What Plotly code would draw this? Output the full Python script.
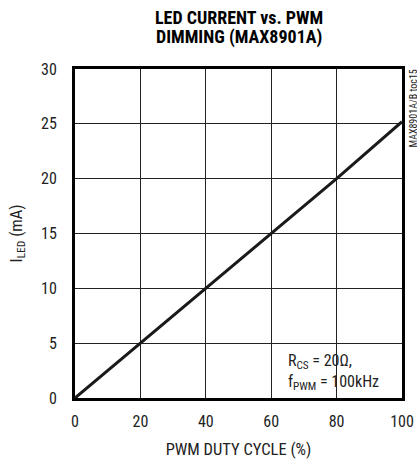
import plotly.graph_objects as go

duty_cycle = [0, 20, 40, 60, 80, 100]
led_current = [0, 5.0, 10.0, 15.0, 20.0, 25.2]
x_ticks = [0, 20, 40, 60, 80, 100]
y_ticks = [0, 5, 10, 15, 20, 25, 30]

FONT = "Liberation Sans Narrow, Arial Narrow, Roboto Condensed, Liberation Sans, sans-serif"

fig = go.Figure()
fig.add_trace(go.Scatter(x=duty_cycle, y=led_current, mode="lines",
                         line=dict(color="#1a1a1a", width=3), showlegend=False,
                         hoverinfo="skip"))

# white box behind the annotation
fig.add_shape(type="rect", xref="x", yref="y", x0=61, x1=99.5, y0=0.3, y1=4.85,
              fillcolor="white", line=dict(width=0), layer="below")

fig.add_annotation(x=64.5, y=0.3, xref="x", yref="y", xanchor="left", yanchor="bottom",
                   text="R<sub>CS</sub> = 20Ω,<br>f<sub>PWM</sub> = 100kHz",
                   showarrow=False, align="left",
                   font=dict(family=FONT, size=16, color="#222"))

fig.add_annotation(x=1.0, y=1.0, xref="paper", yref="paper", xanchor="left", yanchor="top",
                   xshift=3, yshift=1, text="MAX8901A/B toc15", textangle=-90, showarrow=False,
                   font=dict(family=FONT, size=10, color="#222"))

# title lines above plot
fig.add_annotation(x=0.5, y=1.0, xref="paper", yref="paper", xanchor="center", yanchor="bottom",
                   yshift=39, text="<b>LED CURRENT vs. PWM</b>",
                   showarrow=False, font=dict(family=FONT, size=18, color="black"))
fig.add_annotation(x=0.5, y=1.0, xref="paper", yref="paper", xanchor="center", yanchor="bottom",
                   yshift=19, text="<b>DIMMING (MAX8901A)</b>",
                   showarrow=False, font=dict(family=FONT, size=18, color="black"))

fig.update_layout(
    width=417, height=460,
    margin=dict(l=75, r=15, t=69, b=62),
    paper_bgcolor="white", plot_bgcolor="white",
    font=dict(family=FONT, size=16, color="#222"),
    hovermode=False,
)
fig.update_xaxes(range=[0, 100], tickvals=x_ticks, showgrid=True, gridcolor="#222",
                 gridwidth=1, zeroline=False, showline=True, linecolor="black",
                 linewidth=3, mirror=True, ticks="", ticklabelstandoff=7, automargin=False,
                 title=dict(text="PWM DUTY CYCLE (%)", font=dict(size=16.5), standoff=14))
fig.update_yaxes(range=[0, 30], tickvals=y_ticks, showgrid=True, gridcolor="#222",
                 gridwidth=1, zeroline=False, showline=True, linecolor="black",
                 linewidth=3, mirror=True, ticks="", ticklabelstandoff=12, automargin=False,
                 title=dict(text="I<sub>LED</sub> (mA)", font=dict(size=16.5), standoff=15))

# remove the default page margin so the figure fills the 417x460 window exactly
fig.write_html("out.html", config={"displayModeBar": False},
               post_script="document.body.style.margin='0';")
